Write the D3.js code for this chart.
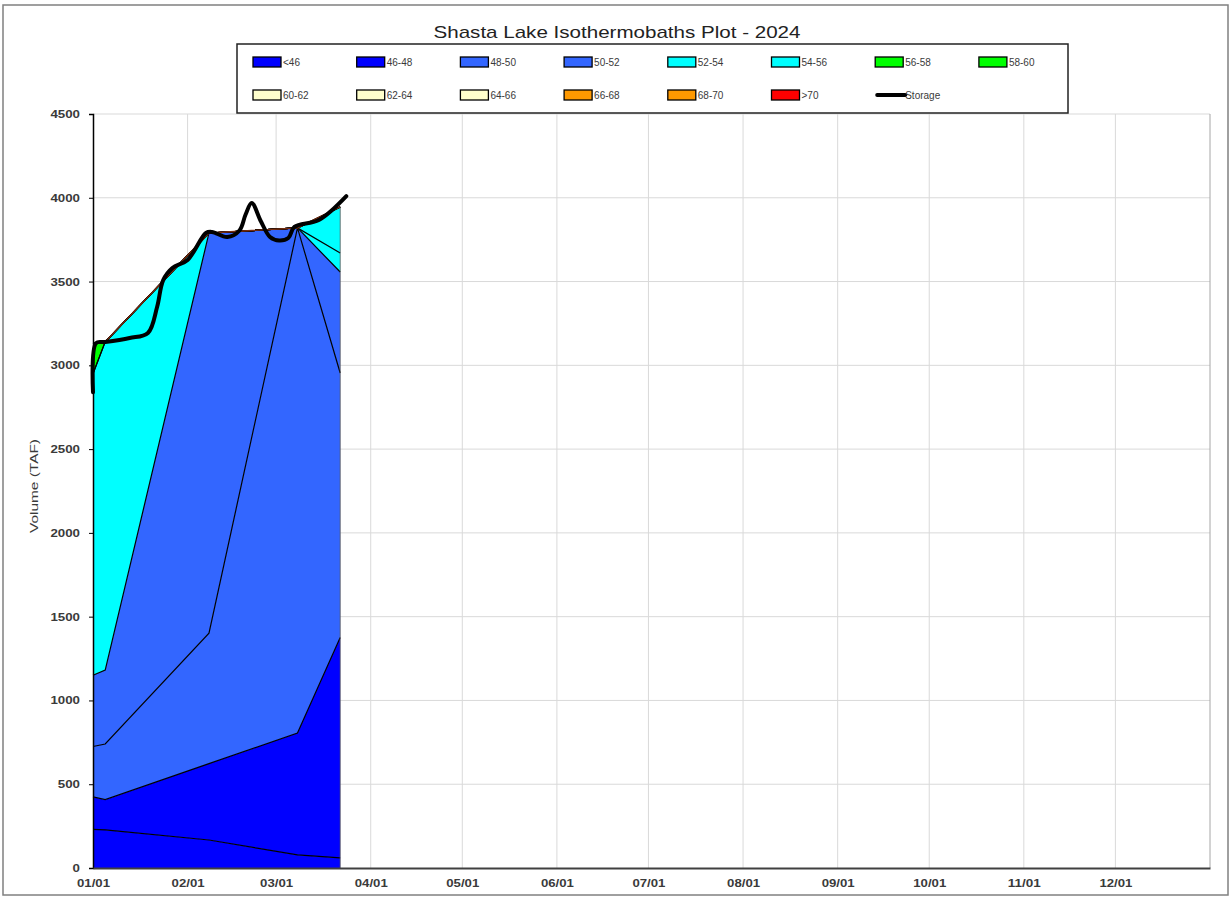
<!DOCTYPE html>
<html>
<head>
<meta charset="utf-8">
<script src="https://cdn.jsdelivr.net/npm/d3@7"></script>
<style>
  body { margin: 0; background: #fff; }
  text { font-family: "Liberation Sans", Arial, sans-serif; }
</style>
</head>
<body>
<svg id="chart" width="1231" height="898"></svg>
<script>
// profile dates (isotherm survey days)
var profileDates = ["2024-01-01", "2024-01-05", "2024-02-08", "2024-03-08", "2024-03-22"];

// temperature bands, bottom to top
var bandNames = ["<46", "46-48", "48-50", "50-52", "52-54", "54-56", "56-58", "58-60",
                 "60-62", "62-64", "64-66", "66-68", "68-70", ">70"];

// volume (TAF) in each band on each profile date
var band_lt46 = [230, 227, 167, 78, 60];
var band_4648 = [194, 181, 456, 727, 1315];
var band_4850 = [301, 332, 779, 3015, 1579];
var band_5052 = [425, 441, 2388, 0, 603];
var band_5254 = [1800, 1959, 0, 0, 113];
var band_5456 = [0, 0, 0, 0, 275];
var band_5658 = [180, 0, 0, 0, 0];
var band_5860 = [0, 0, 0, 0, 0];
var band_6062 = [0, 0, 0, 0, 0];
var band_6264 = [0, 0, 0, 0, 0];
var band_6466 = [0, 0, 0, 0, 0];
var band_6668 = [0, 0, 0, 0, 0];
var band_6870 = [0, 0, 0, 0, 0];
var band_gt70 = [0, 0, 0, 0, 0];

// storage (TAF)
var storageDates = ["2024-01-01", "2024-01-02", "2024-01-05", "2024-01-13", "2024-01-19", "2024-01-22",
                    "2024-01-24", "2024-01-27", "2024-02-01", "2024-02-07", "2024-02-09", "2024-02-14",
                    "2024-02-18", "2024-02-20", "2024-02-22", "2024-02-25", "2024-02-28", "2024-03-02",
                    "2024-03-05", "2024-03-07", "2024-03-15", "2024-03-24"];
var storageValues = [2840, 3133, 3139, 3163, 3193, 3348,
                     3509, 3581, 3629, 3790, 3796, 3766,
                     3805, 3900, 3969, 3860, 3766, 3745,
                     3760, 3826, 3867, 4010];

var yTicks = [0, 500, 1000, 1500, 2000, 2500, 3000, 3500, 4000, 4500];
var xTicks = ["2024-01-01", "2024-02-01", "2024-03-01", "2024-04-01", "2024-05-01", "2024-06-01",
              "2024-07-01", "2024-08-01", "2024-09-01", "2024-10-01", "2024-11-01", "2024-12-01"];

var bandColors = ["#0000ff", "#0000ff", "#3366ff", "#3366ff", "#00ffff", "#00ffff", "#00ff00", "#00ff00",
                  "#ffffcc", "#ffffcc", "#ffffcc", "#ff9900", "#ff9900", "#ff0000"];

var bandValues = [band_lt46, band_4648, band_4850, band_5052, band_5254, band_5456, band_5658, band_5860,
                  band_6062, band_6264, band_6466, band_6668, band_6870, band_gt70];

var parse = d3.timeParse("%Y-%m-%d");

var svg = d3.select("#chart");

// outer frame
svg.append("rect")
  .attr("x", 3).attr("y", 5).attr("width", 1225).attr("height", 890)
  .attr("fill", "none").attr("stroke", "#808080").attr("stroke-width", 1.5);

var x = d3.scaleTime()
  .domain([parse("2024-01-01"), parse("2025-01-01")])
  .range([93, 1210]);

var y = d3.scaleLinear()
  .domain([0, 4500])
  .range([868, 114]);

// grid
var months = xTicks.slice(1).map(parse);
svg.append("g").selectAll("line").data(months).enter().append("line")
  .attr("x1", function(d) { return x(d); }).attr("x2", function(d) { return x(d); })
  .attr("y1", y(4500)).attr("y2", y(0))
  .attr("stroke", "#d9d9d9").attr("stroke-width", 1);

svg.append("g").selectAll("line").data(yTicks.slice(1)).enter().append("line")
  .attr("x1", x.range()[0]).attr("x2", x.range()[1])
  .attr("y1", function(d) { return y(d); }).attr("y2", function(d) { return y(d); })
  .attr("stroke", "#d9d9d9").attr("stroke-width", 1);

svg.append("line")
  .attr("x1", 1210).attr("x2", 1210).attr("y1", y(4500)).attr("y2", y(0))
  .attr("stroke", "#a6a6a6").attr("stroke-width", 1);

// stacked bands
var table = profileDates.map(function(d, i) {
  var row = { date: parse(d) };
  bandNames.forEach(function(b, j) { row[b] = bandValues[j][i]; });
  return row;
});

var series = d3.stack().keys(bandNames)(table);

var area = d3.area()
  .x(function(d) { return x(d.data.date); })
  .y0(function(d) { return y(d[0]); })
  .y1(function(d) { return y(d[1]); });

svg.append("g").selectAll("path").data(series).enter().append("path")
  .attr("d", area)
  .attr("fill", function(d, i) { return bandColors[i]; })
  .attr("stroke", "none");

var topLine = d3.line()
  .x(function(d) { return x(d.data.date); })
  .y(function(d) { return y(d[1]); });

svg.append("g").selectAll("path").data(series.slice(0, series.length - 1)).enter().append("path")
  .attr("d", topLine)
  .attr("fill", "none")
  .attr("stroke", "#000")
  .attr("stroke-width", 1.2);

// top of stack is the >70 band outline
svg.append("path")
  .attr("d", topLine(series[series.length - 1]))
  .attr("fill", "none")
  .attr("stroke", "#7a2e10")
  .attr("stroke-width", 1.4);

// right edge of the filled area
var last = series[series.length - 1][profileDates.length - 1];
svg.append("line")
  .attr("x1", x(last.data.date)).attr("x2", x(last.data.date))
  .attr("y1", y(0)).attr("y2", y(last[1]))
  .attr("stroke", "#555").attr("stroke-width", 0.8);

// axes
var yAxis = svg.append("g")
  .attr("transform", "translate(93,0)")
  .call(d3.axisLeft(y).tickValues(yTicks).tickFormat(d3.format("d")).tickSize(4).tickPadding(9));
yAxis.select(".domain").attr("stroke", "#000").attr("stroke-width", 1.5);
yAxis.selectAll(".tick line").attr("stroke", "#000");
yAxis.selectAll(".tick text")
  .attr("font-size", 11).attr("font-weight", "bold").attr("fill", "#3a3a3a")
  .attr("textLength", function(d) { return String(d).length * 7.4; })
  .attr("lengthAdjust", "spacingAndGlyphs");

var xAxis = svg.append("g")
  .attr("transform", "translate(0,868)")
  .call(d3.axisBottom(x).tickValues(xTicks.map(parse)).tickFormat(d3.timeFormat("%m/%d")).tickSize(0).tickPadding(11));
xAxis.select(".domain").attr("stroke", "#404040").attr("stroke-width", 2);
xAxis.selectAll(".tick text")
  .attr("font-size", 11).attr("font-weight", "bold").attr("fill", "#3a3a3a")
  .attr("textLength", 33).attr("lengthAdjust", "spacingAndGlyphs");

svg.append("text")
  .attr("transform", "translate(38,486) rotate(-90)")
  .attr("text-anchor", "middle")
  .attr("font-size", 10).attr("fill", "#3a3a3a")
  .attr("textLength", 94).attr("lengthAdjust", "spacingAndGlyphs")
  .text("Volume (TAF)");

// storage line
var storage = storageDates.map(function(d, i) { return { date: parse(d), value: storageValues[i] }; });
svg.append("path")
  .datum(storage)
  .attr("d", d3.line()
    .curve(d3.curveCatmullRom)
    .x(function(d) { return x(d.date); })
    .y(function(d) { return y(d.value); }))
  .attr("fill", "none")
  .attr("stroke", "#000")
  .attr("stroke-width", 4)
  .attr("stroke-linejoin", "round")
  .attr("stroke-linecap", "round");

// title
svg.append("text")
  .attr("x", 617).attr("y", 38)
  .attr("text-anchor", "middle")
  .attr("font-size", 17).attr("fill", "#222")
  .attr("textLength", 367).attr("lengthAdjust", "spacingAndGlyphs")
  .text("Shasta Lake Isothermobaths Plot - 2024");

// legend
var legend = svg.append("g");
legend.append("rect")
  .attr("x", 237).attr("y", 44).attr("width", 831).attr("height", 69)
  .attr("fill", "#fff").attr("stroke", "#222").attr("stroke-width", 1.5);

var legendItems = bandNames.concat(["Storage"]);
var item = legend.selectAll(".item").data(legendItems).enter().append("g")
  .attr("class", "item")
  .attr("transform", function(d, i) {
    var col = i % 8, row = Math.floor(i / 8);
    return "translate(" + (253 + col * 103.7) + "," + (62 + row * 33) + ")";
  });

item.filter(function(d) { return d != "Storage"; }).append("rect")
  .attr("x", 0).attr("y", -5).attr("width", 28).attr("height", 10)
  .attr("fill", function(d, i) { return bandColors[i]; })
  .attr("stroke", "#000").attr("stroke-width", 1.3);

item.filter(function(d) { return d == "Storage"; }).append("line")
  .attr("x1", 2).attr("x2", 30).attr("y1", 0).attr("y2", 0)
  .attr("stroke", "#000").attr("stroke-width", 4).attr("stroke-linecap", "round");

item.append("text")
  .attr("x", 30).attr("y", 3.5)
  .attr("font-size", 10).attr("fill", "#3a3a3a")
  .text(function(d) { return d; });
</script>
</body>
</html>
